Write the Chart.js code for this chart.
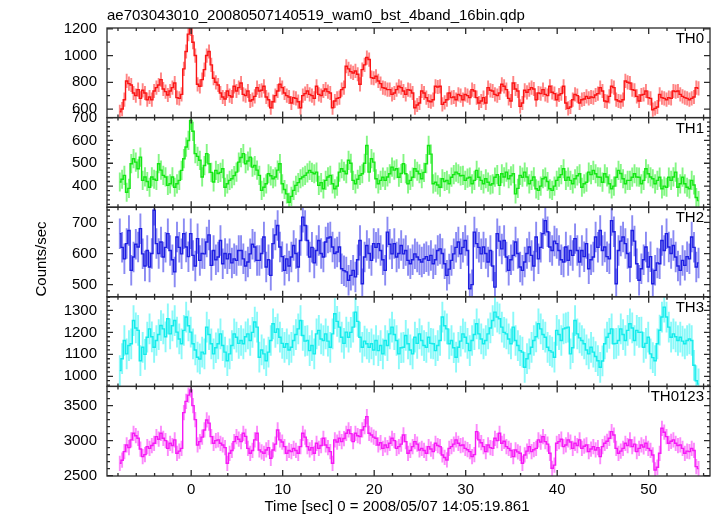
<!DOCTYPE html>
<html><head><meta charset="utf-8">
<script src="https://cdn.jsdelivr.net/npm/chart.js@4.4.1/dist/chart.umd.min.js"></script>
<style>html,body{margin:0;padding:0;background:#fff;overflow:hidden}</style>
</head><body>
<canvas id="c" width="717" height="516"></canvas>
<script>
// ---------- text ----------
const titleText = 'ae703043010_20080507140519_wam0_bst_4band_16bin.qdp';
const xTitleText = 'Time [sec] 0 = 2008/05/07 14:05:19.861';
const yTitleText = 'Counts/sec';
const panelNames = ['TH0', 'TH1', 'TH2', 'TH3', 'TH0123'];

// ---------- time bins: 16 x 1/64 s = 0.25 s, centre of first bin ----------
const binStart = -7.8;
const binWidth = 0.25;

// ---------- rates (counts/sec) ----------
const th0 = [
580,600,670,810,790,780,720,700,745,680,740,720,670,690,670,735,760,780,820,750,
730,705,735,760,795,685,680,710,900,1030,1160,1200,1100,1000,785,770,820,895,1000,1030,
930,830,800,780,720,690,675,735,700,690,770,735,760,795,710,700,735,660,670,695,
760,735,740,770,690,670,610,655,700,735,785,760,720,700,690,645,685,680,655,610,
700,715,735,710,700,
680,770,710,700,735,750,730,720,610,660,680,685,745,760,920,900,880,870,885,860,
785,895,930,985,970,835,830,845,810,790,760,755,745,745,710,720,745,770,760,735,
710,745,740,720,610,630,645,735,720,685,660,655,670,770,765,770,635,650,670,720,
685,690,670,710,700,670,710,700,685,745,735,685,645,660,685,645,760,740,735,710,
700,720,785,770,745,
680,660,795,750,735,620,645,740,725,745,760,750,670,720,715,745,710,700,770,725,
715,670,705,715,770,645,605,615,670,710,700,645,670,675,695,680,690,685,705,715,
760,735,660,655,695,770,760,670,660,655,670,810,800,795,745,740,695,660,705,710,
735,685,680,595,605,615,710,685,680,670,685,680,735,730,735,710,695,685,680,670,
680,690,760,755];

const th1 = [
418,430,447,373,390,498,520,505,476,527,425,440,420,395,440,430,425,498,470,447,
440,403,410,440,395,410,425,469,520,571,600,688,640,542,530,513,440,490,542,498,
460,418,469,455,460,476,395,410,425,432,446,461,505,525,542,498,510,527,483,490,
470,447,381,395,410,454,445,432,440,470,498,410,385,366,329,355,381,403,415,432,
440,447,458,469,460,
454,461,403,415,388,425,440,447,410,388,400,461,476,465,454,513,500,425,410,430,
447,454,500,578,461,520,505,432,410,425,439,425,440,454,483,470,476,439,455,498,
454,410,425,439,476,465,454,432,460,498,578,540,410,417,405,395,432,420,425,410,
439,450,461,454,445,447,425,435,439,410,425,469,439,425,410,432,417,405,410,439,
450,403,454,440,461,
432,445,454,366,390,447,439,461,440,410,425,440,388,381,400,432,439,420,388,381,
400,425,439,450,476,425,439,425,410,432,445,454,395,410,417,461,450,469,454,440,
439,417,454,440,410,388,400,439,469,455,432,410,425,425,439,454,440,439,410,425,
476,454,440,432,410,425,439,388,400,395,439,425,440,461,395,410,439,410,395,388,
425,405,350,337];

const th2 = [
664,620,583,632,674,546,589,630,621,680,599,560,610,557,600,739,632,600,637,589,
620,664,610,580,541,653,620,599,664,621,590,664,594,560,648,578,600,599,637,660,
562,610,580,589,642,567,600,583,599,570,583,578,610,610,583,560,573,599,630,621,
578,578,600,653,557,580,530,632,660,690,621,590,546,583,560,589,626,600,557,642,
717,690,642,589,620,
570,610,642,600,589,637,650,653,621,600,605,621,551,545,541,514,530,546,525,580,
642,503,589,626,600,578,632,620,632,610,580,546,669,630,599,632,589,600,626,599,
610,578,567,580,599,589,580,573,583,590,578,594,567,580,610,615,600,567,530,550,
578,599,620,637,599,620,642,610,487,500,669,632,620,599,621,600,573,610,560,492,
664,640,615,642,589,
546,580,594,637,600,557,546,573,600,621,594,560,653,583,620,664,706,670,621,610,
640,632,610,580,573,621,578,610,594,648,610,573,610,590,632,551,580,589,653,620,
674,610,621,590,583,706,670,503,610,640,653,632,600,557,674,640,567,514,551,580,
621,557,590,503,546,570,567,642,610,664,621,600,626,589,560,546,578,562,590,583,
653,620,557,570];

const th3 = [
1026,1080,1163,1102,1140,1148,1254,1220,1209,1071,1132,1100,1178,1216,1180,1132,1163,1190,1231,1216,
1180,1262,1193,1230,1254,1201,1170,1148,1209,1270,1230,1201,1148,1120,1087,1079,1110,1102,1224,1190,
1148,1102,1130,1148,1193,1140,1110,1071,1102,1140,1193,1178,1150,1163,1148,1180,1193,1163,1200,1247,
1224,1087,1120,1102,1071,1110,1163,1239,1200,1216,1178,1150,1132,1148,1120,1132,1163,1190,1216,1254,
1186,1160,1163,1117,1140,
1102,1193,1209,1170,1163,1193,1160,1132,1193,1285,1250,1224,1178,1150,1201,1178,1200,1224,1292,1250,
1178,1132,1160,1148,1132,1148,1120,1163,1117,1140,1102,1163,1140,1193,1224,1190,1163,1102,1130,1132,
1186,1148,1120,1102,1178,1150,1193,1163,1140,1132,1178,1150,1148,1117,1140,1163,1270,1230,1216,1148,
1163,1130,1087,1132,1160,1193,1178,1150,1117,1163,1190,1239,1193,1170,1148,1163,1193,1220,1254,1292,
1270,1262,1224,1200,1193,
1170,1148,1224,1163,1140,1117,1110,1041,1080,1102,1132,1163,1180,1239,1216,1190,1178,1132,1117,1110,
1087,1209,1190,1163,1216,1220,1224,1102,1130,1254,1193,1175,1163,1148,1120,1102,1132,1110,1090,1071,
1041,1070,1148,1178,1195,1216,1148,1150,1163,1216,1190,1163,1209,1239,1220,1163,1209,1200,1201,1132,
1150,1178,1102,1085,1071,1148,1210,1270,1315,1270,1224,1178,1193,1180,1163,1178,1160,1148,1163,1170,
1163,1050,980,965];

const th0123 = [
2676,2720,2843,2938,2900,3010,3105,3070,3033,2880,2771,2800,2914,2890,2930,2962,3057,3020,3105,3033,
3000,2890,2962,2930,3010,2819,2850,2890,3400,3560,3650,3724,3500,3300,2938,2986,3050,3152,3295,3250,
3057,2962,3000,3010,2962,2938,2900,2676,2819,2860,2986,3057,3020,2986,3105,3060,2890,2819,2860,3010,
3105,2867,2840,2819,2867,2900,2748,2867,2950,3152,3010,2980,2914,2819,2860,2843,2890,2860,2819,2914,
3105,3050,2914,2867,2900,
2819,2962,2890,2930,3033,2938,2900,2843,2676,3010,2980,3033,2986,3030,3105,3152,3100,2986,3105,3070,
3057,3152,3200,3343,3105,3081,3050,3033,2938,2970,2890,2938,2900,2962,3033,3000,2890,2914,2950,3081,
2986,2819,2860,2914,2986,2950,2867,2890,2860,2819,2914,2880,2843,2962,2930,2914,2795,2760,2724,2890,
2914,2950,3010,2962,2930,2938,2890,2870,2843,2772,2800,3128,3010,2970,2914,2843,2938,2900,2890,3033,
3000,3105,2962,2990,2914,
2890,2860,2772,2867,2840,2819,2676,2795,2850,2914,2843,2870,2890,3010,2980,3057,2986,2950,2819,2605,
2650,2962,2986,3020,2914,2938,3010,2980,2890,2962,2930,3010,2890,2920,2938,2843,2880,2914,2867,2900,
2772,2914,2962,2990,3033,3128,3080,2890,2819,2850,2890,2962,2930,3010,2914,2950,2843,2890,2938,2910,
2962,2890,2860,2795,2581,2620,2819,3176,3120,3057,2962,2990,3010,2962,2930,2938,2890,2819,2850,2843,
2890,2860,2629,2600];

// ---------- error bar half-widths (counts/sec) ----------
const errTH0 = 53, errTH1 = 42, errTH2 = 49, errTH3 = 70, errTH0123 = 109;

// ---------- tick labels ----------
const xTickValues = [0, 10, 20, 30, 40, 50];
const ticksTH0 = [600, 800, 1000, 1200];
const ticksTH1 = [400, 500, 600, 700];
const ticksTH2 = [500, 600, 700];
const ticksTH3 = [1000, 1100, 1200, 1300];
const ticksTH0123 = [2500, 3000, 3500];

// ---------- build ----------
const FONT = '"Liberation Sans", Arial, Helvetica, sans-serif';
const toPts = arr => arr.map((v, i) => ({x: binStart + i * binWidth, y: v}));

const panels = [
  {id: 'yTH0',    values: th0,    err: errTH0,    ticks: ticksTH0,    min: 536,   max: 1206, minor: 100, color: 'rgb(250,20,20)',  errColor: 'rgba(255,50,50,0.6)'},
  {id: 'yTH1',    values: th1,    err: errTH1,    ticks: ticksTH1,    min: 307.5, max: 700,  minor: 20,  color: 'rgb(20,230,20)',  errColor: 'rgba(50,240,50,0.6)'},
  {id: 'yTH2',    values: th2,    err: errTH2,    ticks: ticksTH2,    min: 461,   max: 749,  minor: 20,  color: 'rgb(30,30,225)',  errColor: 'rgba(60,60,235,0.6)'},
  {id: 'yTH3',    values: th3,    err: errTH3,    ticks: ticksTH3,    min: 954,   max: 1362, minor: 20,  color: 'rgb(20,235,235)', errColor: 'rgba(60,245,245,0.6)'},
  {id: 'yTH0123', values: th0123, err: errTH0123, ticks: ticksTH0123, min: 2495,  max: 3774, minor: 100, color: 'rgb(245,25,245)', errColor: 'rgba(250,60,250,0.6)'}
];

const X_MIN = -9.2, X_MAX = 56.7;

const scales = {
  x: {
    type: 'linear', position: 'bottom', min: X_MIN, max: X_MAX,
    grid: {display: false, drawTicks: false}, border: {display: false},
    ticks: {font: {family: FONT, size: 15}, color: '#000', padding: 5, autoSkip: false, maxRotation: 0,
            callback: v => String(v)},
    afterBuildTicks: s => { s.ticks = xTickValues.map(v => ({value: v})); },
    afterFit: s => { s.height = 40; }
  }
};
// later-defined stacked left scales are placed higher, so add bottom panel first
[...panels].reverse().forEach(p => {
  scales[p.id] = {
    type: 'linear', position: 'left', stack: 'panels', stackWeight: 1,
    min: p.min, max: p.max,
    grid: {display: false, drawTicks: false}, border: {display: false},
    ticks: {font: {family: FONT, size: 15}, color: '#000', padding: 10, autoSkip: false,
            callback: v => String(v)},
    afterBuildTicks: s => { s.ticks = p.ticks.map(v => ({value: v})); },
    afterFit: s => { s.width = 107; }
  };
});

const datasets = panels.map((p, i) => ({
  label: panelNames[i],
  data: toPts(p.values),
  yAxisID: p.id, xAxisID: 'x',
  borderColor: p.color, borderWidth: 1.4,
  pointRadius: 0, fill: false, stepped: 'middle', tension: 0
}));

const qdpPlugin = {
  id: 'qdp',
  beforeDatasetDraw(chart, args) {
    const p = panels[args.index];
    const ys = chart.scales[p.id], xs = chart.scales.x, a = chart.chartArea, ctx = chart.ctx;
    ctx.save();
    ctx.beginPath();
    ctx.rect(a.left, ys.top, a.right - a.left, ys.bottom - ys.top);
    ctx.clip();
    ctx.strokeStyle = p.errColor;
    ctx.lineWidth = 1.9;
    ctx.beginPath();
    chart.data.datasets[args.index].data.forEach(pt => {
      const x = xs.getPixelForValue(pt.x);
      ctx.moveTo(x, ys.getPixelForValue(pt.y - p.err));
      ctx.lineTo(x, ys.getPixelForValue(pt.y + p.err));
    });
    ctx.stroke();
  },
  afterDatasetDraw(chart) { chart.ctx.restore(); },
  afterDraw(chart) {
    const ctx = chart.ctx, a = chart.chartArea, xs = chart.scales.x;
    ctx.save();
    ctx.strokeStyle = '#2a2a2a';
    ctx.lineWidth = 1.3;
    panels.forEach((p, i) => {
      const ys = chart.scales[p.id];
      const top = ys.top, bot = ys.bottom;
      ctx.strokeRect(a.left, top, a.right - a.left, bot - top);
      ctx.beginPath();
      for (let v = Math.ceil(X_MIN / 2) * 2; v <= X_MAX; v += 2) {
        const x = xs.getPixelForValue(v);
        const len = (v % 10 === 0) ? 6 : 3;
        ctx.moveTo(x, top); ctx.lineTo(x, top + len);
        ctx.moveTo(x, bot); ctx.lineTo(x, bot - len);
      }
      for (let v = Math.ceil(p.min / p.minor) * p.minor; v <= p.max; v += p.minor) {
        const y = ys.getPixelForValue(v);
        const len = p.ticks.includes(v) ? 6 : 3;
        ctx.moveTo(a.left, y); ctx.lineTo(a.left + len, y);
        ctx.moveTo(a.right, y); ctx.lineTo(a.right - len, y);
      }
      ctx.stroke();
      ctx.fillStyle = '#000';
      ctx.font = '15px ' + FONT;
      ctx.textAlign = 'right';
      ctx.textBaseline = 'alphabetic';
      ctx.fillText(panelNames[i], a.right - 6, top + 15);
    });
    ctx.fillStyle = '#000';
    ctx.font = '15px ' + FONT;
    ctx.textAlign = 'left';
    ctx.textBaseline = 'alphabetic';
    ctx.fillText(titleText, 107, 20);
    ctx.textAlign = 'center';
    ctx.fillText(xTitleText, 397, 511);
    ctx.translate(46, 259);
    ctx.rotate(-Math.PI / 2);
    ctx.textAlign = 'center';
    ctx.fillText(yTitleText, 0, 0);
    ctx.restore();
  }
};

Chart.defaults.font.family = FONT;
new Chart(document.getElementById('c'), {
  type: 'line',
  data: {datasets},
  options: {
    responsive: false, animation: false, devicePixelRatio: 1,
    layout: {padding: {top: 28, right: 7, bottom: 0, left: 0}},
    plugins: {legend: {display: false}, tooltip: {enabled: false}, title: {display: false}},
    scales
  },
  plugins: [qdpPlugin]
});
</script>
</body></html>
